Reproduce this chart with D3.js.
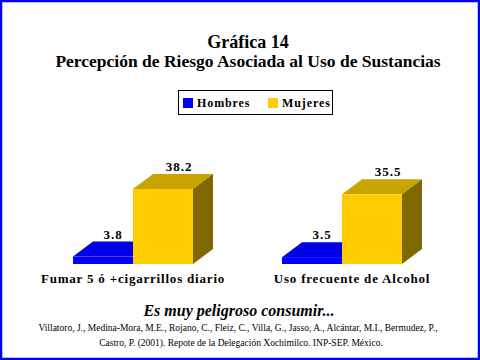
<!DOCTYPE html>
<html>
<head>
<meta charset="utf-8">
<script src="https://cdn.jsdelivr.net/npm/d3@7"></script>
<style>
  body { margin: 0; background: #fff; }
  svg { display: block; }
  text { font-family: "Liberation Serif", "Times New Roman", serif; fill: #000; }
</style>
</head>
<body>
<div id="chart"></div>
<script>
// data
const categories = ["Fumar 5 ó +cigarrillos diario", "Uso frecuente de Alcohol"];
const seriesNames = ["Hombres", "Mujeres"];
const hombres = [3.8, 3.5];
const mujeres = [38.2, 35.5];

const width = 480, height = 360;
const depth = {dx: 20, dy: -15};
const colors = {
    Hombres: {front: "#0000ff", top: "#0000e6", side: "#000099"},
    Mujeres: {front: "#ffcc00", top: "#c9a300", side: "#806800"}
};

let svg = d3.select("#chart").append("svg")
    .attr("width", width)
    .attr("height", height);

// blue frame
svg.append("rect")
    .attr("x", 1).attr("y", 1)
    .attr("width", width - 2).attr("height", height - 2)
    .attr("fill", "none")
    .attr("stroke", "#0000ff")
    .attr("stroke-width", 2.5);

// titles
svg.append("text")
    .attr("x", 248).attr("y", 48)
    .attr("text-anchor", "middle")
    .style("font-size", "18px").style("font-weight", "bold")
    .text("Gráfica 14");
svg.append("text")
    .attr("x", 248).attr("y", 67)
    .attr("text-anchor", "middle")
    .style("font-size", "17.5px").style("font-weight", "bold")
    .text("Percepción de Riesgo Asociada al Uso de Sustancias");

// legend
let legend = svg.append("g");
legend.append("rect")
    .attr("x", 178.5).attr("y", 90.5)
    .attr("width", 154).attr("height", 24)
    .attr("fill", "#fff").attr("stroke", "#000").attr("stroke-width", 1);
let legendX = [183, 268];
seriesNames.forEach((s, i) => {
    legend.append("rect")
        .attr("x", legendX[i]).attr("y", 98)
        .attr("width", 10).attr("height", 10)
        .attr("fill", colors[s].front);
    legend.append("text")
        .attr("x", legendX[i] + 14).attr("y", 107)
        .style("font-size", "12px").style("font-weight", "bold")
        .style("letter-spacing", "0.9px")
        .text(s);
});

// scales
let yScale = d3.scaleLinear()
    .domain([0, 40])
    .range([264, 185.5]);
let x0 = d3.scaleBand()
    .domain(categories)
    .range([73, 491]);
let x1 = d3.scaleBand()
    .domain(seriesNames)
    .range([0, 120]);

let rows = [];
categories.forEach((c, i) => {
    rows.push({cat: c, series: "Hombres", value: hombres[i]});
    rows.push({cat: c, series: "Mujeres", value: mujeres[i]});
});

let y0 = yScale(0);
let w = x1.bandwidth();
let bars = svg.append("g").selectAll("g.bar").data(rows).enter()
    .append("g").classed("bar", true);

bars.append("polygon")   // top face
    .attr("points", d => {
        let x = x0(d.cat) + x1(d.series), yv = yScale(d.value);
        return [[x, yv], [x + depth.dx, yv + depth.dy], [x + w + depth.dx, yv + depth.dy], [x + w, yv]].join(" ");
    })
    .attr("fill", d => colors[d.series].top);
bars.append("polygon")   // right side
    .attr("points", d => {
        let x = x0(d.cat) + x1(d.series), yv = yScale(d.value);
        return [[x + w, yv], [x + w + depth.dx, yv + depth.dy], [x + w + depth.dx, y0 + depth.dy], [x + w, y0]].join(" ");
    })
    .attr("fill", d => colors[d.series].side);
bars.append("rect")      // front face
    .attr("x", d => x0(d.cat) + x1(d.series))
    .attr("y", d => yScale(d.value))
    .attr("width", w)
    .attr("height", d => y0 - yScale(d.value))
    .attr("fill", d => colors[d.series].front);

// value labels
let labelShift = {Hombres: 0.5, Mujeres: 0.8};
bars.append("text")
    .attr("x", d => x0(d.cat) + x1(d.series) + w / 2 + depth.dx * labelShift[d.series])
    .attr("y", d => yScale(d.value) + depth.dy - 3)
    .attr("text-anchor", "middle")
    .style("font-size", "13px").style("font-weight", "bold")
    .style("letter-spacing", "1px")
    .text(d => d.value.toFixed(1));

// category labels
svg.append("g").selectAll("text").data(categories).enter()
    .append("text")
    .attr("x", (d, i) => x0(d) + w + (i === 0 ? 0 : 10))
    .attr("y", 283)
    .attr("text-anchor", "middle")
    .style("font-size", "13px").style("font-weight", "bold")
    .style("letter-spacing", "0.8px")
    .text(d => d);

// footer
svg.append("text")
    .attr("x", 239).attr("y", 316)
    .attr("text-anchor", "middle")
    .style("font-size", "16px").style("font-weight", "bold").style("font-style", "italic")
    .text("Es muy peligroso consumir...");
svg.append("text")
    .attr("x", 238).attr("y", 331)
    .attr("text-anchor", "middle")
    .style("font-size", "9.5px")
    .text("Villatoro, J., Medina-Mora, M.E., Rojano, C., Fleiz, C., Villa, G., Jasso, A., Alcántar, M.I., Bermudez, P.,");
svg.append("text")
    .attr("x", 241).attr("y", 346)
    .attr("text-anchor", "middle")
    .style("font-size", "9.5px")
    .text("Castro, P. (2001). Repote de la Delegación Xochimilco. INP-SEP. México.");
</script>
</body>
</html>
